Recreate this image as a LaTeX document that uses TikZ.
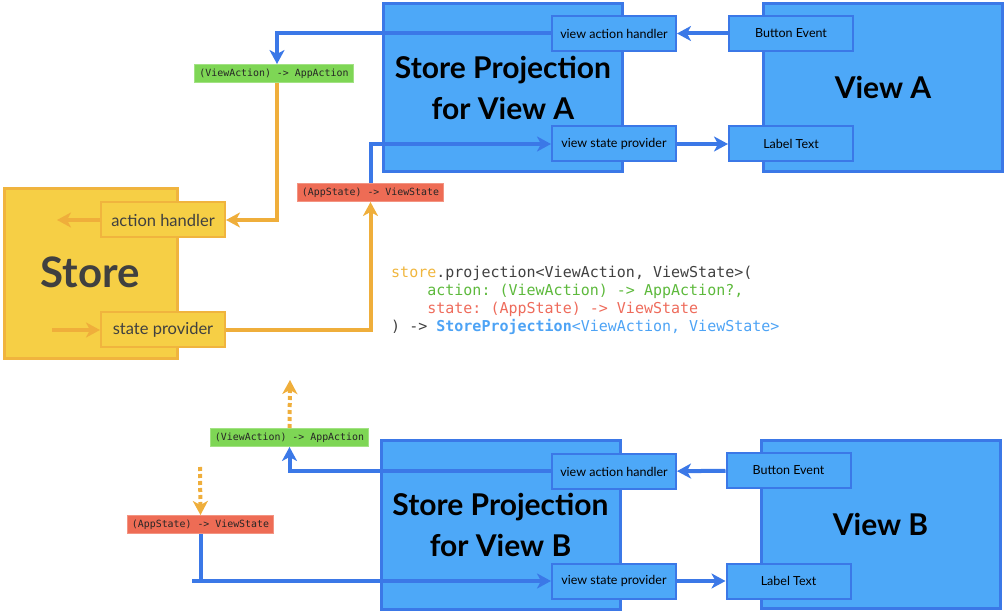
\documentclass[tikz,border=0pt]{standalone}
\usepackage{fontspec}
\setmainfont{Lato}
\setmonofont{DejaVu Sans Mono}
\usetikzlibrary{arrows.meta}

\definecolor{blueFill}{HTML}{4DA8F8}
\definecolor{blueLine}{HTML}{3B78E7}
\definecolor{yellowFill}{HTML}{F6CF45}
\definecolor{yellowLine}{HTML}{F0B43E}
\definecolor{orangeLine}{HTML}{EFAE3B}
\definecolor{greenFill}{HTML}{7ED655}
\definecolor{greenLine}{HTML}{A2E283}
\definecolor{redFill}{HTML}{EE6C55}
\definecolor{redLine}{HTML}{F39482}
\definecolor{darkText}{HTML}{404040}
\definecolor{codeYellow}{HTML}{F0B63E}
\definecolor{codeGreen}{HTML}{5DB93C}
\definecolor{codeRed}{HTML}{EE6B5B}
\definecolor{codeBlue}{HTML}{4DA3F5}

\begin{document}
\begin{tikzpicture}
[x=1pt,y=-1pt,
  bigDecorate/.style={draw=blueLine,fill=blueFill,line width=3pt,inner sep=0pt,
    minimum width=239pt,minimum height=168pt,align=center,
    font=\bfseries\fontsize{30}{41}\selectfont},
  portDecorate/.style={draw=blueLine,fill=blueFill,line width=2pt,inner sep=0pt,
    minimum width=124pt,minimum height=35pt,font=\fontsize{12.5}{14}\selectfont},
  storePortDecorate/.style={draw=yellowLine,fill=yellowFill,line width=2pt,inner sep=0pt,
    minimum width=124pt,minimum height=35pt,text=darkText,font=\fontsize{16.5}{18}\selectfont},
  tagDecorate/.style={line width=1pt,inner sep=0pt,minimum height=18pt,
    text=black!85,font=\ttfamily\fontsize{9.9}{11}\selectfont},
  codeDecorate/.style={anchor=base west,inner sep=0pt,text=darkText,
    font=\ttfamily\fontsize{15}{18}\selectfont},
  blueDecorate/.style={draw=blueLine,line width=4pt},
  orangeDecorate/.style={draw=orangeLine,line width=4pt},
  tipDecorate/.style={-{Stealth[length=14pt,width=15pt,inset=4pt]}}]
\useasboundingbox (0,0) rectangle (1005,612);
%% store
\node (store) at (91,273.5) [draw=yellowLine,fill=yellowFill,line width=3pt,
  minimum width=173pt,minimum height=170pt] {};
\node at (90,272) [text=darkText,font=\bfseries\fontsize{42}{44}\selectfont] {Store};
\node (actionHandler) at (163,220) [storePortDecorate] {action handler};
\node (stateProvider) at (163,330) [storePortDecorate] {state provider};
\coordinate (storeIn) at (57,220);
\coordinate (storeOut) at (52,330);
%% big boxes
\foreach \nodename/\x/\y/\label in {
  projA/503/87.5/Store Projection\\for View A,
  viewA/883/87.5/View A,
  projB/500.5/525/Store Projection\\for View B,
  viewB/880.5/524.5/View B}
{
  \node (\nodename) at (\x,\y) [bigDecorate] {\label};
}
%% ports
\foreach \nodename/\x/\y/\label in {
  vahA/614/33.5/view action handler,
  vspA/614/144/view state provider,
  btnA/791/33.5/Button Event,
  lblA/791/144/Label Text,
  vahB/614/471.5/view action handler,
  vspB/614/581/view state provider,
  btnB/788.5/470.5/Button Event,
  lblB/788.5/581/Label Text}
{
  \node (\nodename) at (\x,\y) [portDecorate] {\label};
}
%% mapping tags
\foreach \nodename/\x/\y/\w/\c/\label in {
  greenA/274/73.5/159/green/(ViewAction) -> AppAction,
  redA/370.5/192.5/146/red/(AppState) -> ViewState,
  greenB/289.5/437.5/158/green/(ViewAction) -> AppAction,
  redB/200.5/524.5/146/red/(AppState) -> ViewState}
{
  \node (\nodename) at (\x,\y) [tagDecorate,draw=\c Line,fill=\c Fill,minimum width=\w pt] {\label};
}
\coordinate (upB) at (290,380);
\coordinate (downB) at (200,467);
\coordinate (feedB) at (192,581);
%% code
\node (code1) at (391,277.5) [codeDecorate] {\textcolor{codeYellow}{store}.projection<ViewAction, ViewState>(};
\node (code2) at (391,295.5) [codeDecorate,text=codeGreen] {\phantom{xxxx}action: (ViewAction) -> AppAction?,};
\node (code3) at (391,313.5) [codeDecorate,text=codeRed] {\phantom{xxxx}state: (AppState) -> ViewState};
\node (code4) at (391,331.5) [codeDecorate] {) -> \textcolor{codeBlue}{\textbf{StoreProjection}<ViewAction, ViewState>}};
%% edges
\draw[blueDecorate,tipDecorate] (btnA) -- (vahA);
\draw[blueDecorate,tipDecorate] (vspA) -- (lblA);
\draw[blueDecorate,tipDecorate] (vahA.west) -| ([xshift=3pt]greenA.north);
\draw[blueDecorate,tipDecorate] (redA.north) |- (vspA.west);
\draw[orangeDecorate,tipDecorate] ([xshift=3pt]greenA.south) |- (actionHandler.east);
\draw[orangeDecorate,tipDecorate] (stateProvider.east) -| (redA.south);
\draw[orangeDecorate,tipDecorate] (actionHandler.west) -- (storeIn);
\draw[orangeDecorate,tipDecorate] (storeOut) -- (stateProvider.west);
\draw[blueDecorate,tipDecorate] (btnB) -- (vahB);
\draw[blueDecorate,tipDecorate] (vspB) -- (lblB);
\draw[blueDecorate,tipDecorate] (vahB.west) -| (greenB.south);
\draw[blueDecorate] (redB.south) -- (redB.south |- feedB);
\draw[blueDecorate,tipDecorate] (feedB) -- (vspB.west);
\draw[orangeDecorate,tipDecorate,dash pattern=on 4pt off 3pt] (greenB.north) -- (upB);
\draw[orangeDecorate,tipDecorate,dash pattern=on 4pt off 3pt] (downB) -- (redB.north);
\end{tikzpicture}
\end{document}
